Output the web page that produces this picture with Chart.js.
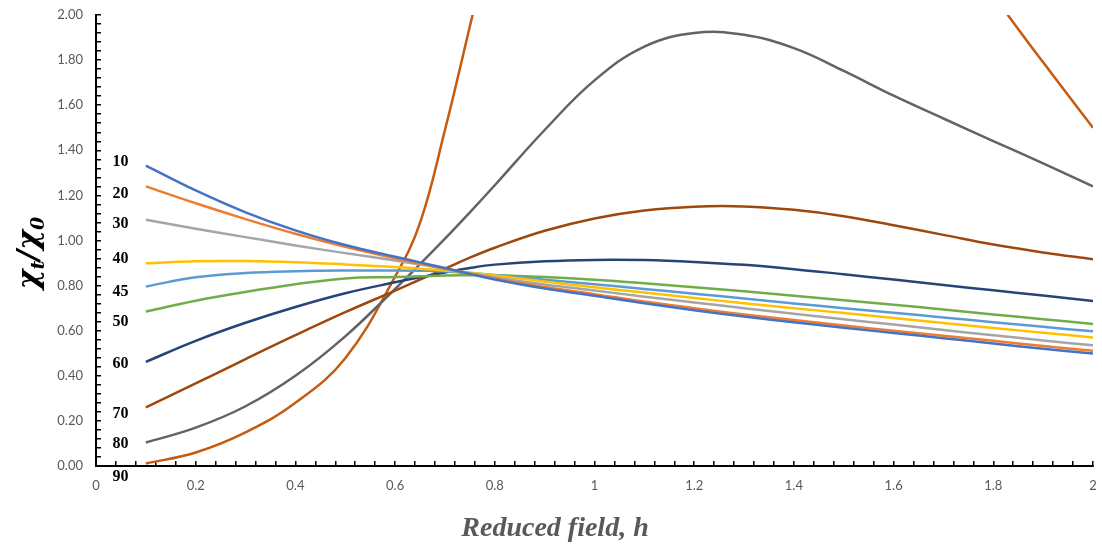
<!DOCTYPE html>
<html>
<head>
<meta charset="utf-8">
<script src="https://cdn.jsdelivr.net/npm/chart.js@4.4.1/dist/chart.umd.min.js"></script>
<style>
html,body{margin:0;padding:0;background:#ffffff;}
#wrap{width:1102px;height:544px;}
</style>
</head>
<body>
<div id="wrap"><canvas id="c" width="1102" height="544"></canvas></div>
<script>
// Reduced field h (x values shared by every series)
const fieldH = [0.1,0.2,0.3,0.4,0.5,0.6,0.65,0.7,0.75,0.8,0.9,1.0,1.1,1.2,1.3,1.4,1.5,1.6,1.7,1.8,1.9,2.0];

// Series labels (angle, degrees)
const angles = ['10','20','30','40','45','50','60','70','80','90'];

// chi_t / chi_0 for each angle
const chi10 = [1.332,1.222,1.125,1.045,0.980,0.928,0.903,0.878,0.852,0.827,0.787,0.755,0.722,0.691,0.663,0.637,0.613,0.590,0.567,0.543,0.520,0.499];
const chi20 = [1.240,1.165,1.095,1.030,0.972,0.921,0.898,0.876,0.853,0.831,0.794,0.762,0.729,0.700,0.672,0.647,0.623,0.600,0.578,0.555,0.532,0.511];
const chi30 = [1.092,1.052,1.015,0.978,0.944,0.911,0.894,0.874,0.855,0.836,0.805,0.778,0.751,0.725,0.700,0.675,0.651,0.627,0.603,0.580,0.557,0.535];
const chi40 = [0.899,0.908,0.909,0.904,0.894,0.882,0.875,0.867,0.857,0.845,0.818,0.793,0.769,0.745,0.722,0.700,0.678,0.656,0.634,0.612,0.591,0.570];
const chi45 = [0.796,0.837,0.856,0.864,0.867,0.867,0.866,0.863,0.856,0.847,0.826,0.806,0.785,0.764,0.743,0.721,0.700,0.680,0.659,0.638,0.617,0.597];
const chi50 = [0.685,0.733,0.772,0.806,0.832,0.838,0.841,0.845,0.846,0.846,0.838,0.826,0.810,0.793,0.775,0.755,0.735,0.715,0.694,0.672,0.651,0.630];
const chi60 = [0.462,0.555,0.635,0.705,0.766,0.815,0.837,0.858,0.878,0.893,0.908,0.914,0.913,0.905,0.892,0.873,0.850,0.827,0.803,0.779,0.756,0.732];
const chi70 = [0.260,0.366,0.474,0.580,0.682,0.778,0.827,0.875,0.924,0.968,1.043,1.098,1.133,1.150,1.151,1.136,1.108,1.068,1.025,0.982,0.947,0.917];
const chi80 = [0.104,0.170,0.265,0.400,0.575,0.785,0.895,1.008,1.125,1.245,1.490,1.710,1.860,1.920,1.912,1.853,1.752,1.642,1.541,1.441,1.342,1.240];
const chi90 = [0.011,0.060,0.149,0.280,0.478,0.840,1.078,1.490,1.950,2.420,3.400,4.100,4.500,4.600,4.400,4.000,3.300,2.800,2.420,2.090,1.790,1.500];

const seriesValues = [chi10,chi20,chi30,chi40,chi45,chi50,chi60,chi70,chi80,chi90];
const seriesColors = ['#4472C4','#ED7D31','#A5A5A5','#FFC000','#5B9BD5','#70AD47','#264478','#9E480E','#636363','#C55A11'];

// Where the angle labels sit, in axis units
const labelH = [0.049,0.049,0.049,0.049,0.049,0.049,0.049,0.049,0.049,0.049];
const labelChi = [1.347,1.209,1.073,0.920,0.772,0.638,0.455,0.231,0.096,-0.047];

const datasets = seriesValues.map((vals, i) => ({
  label: angles[i],
  data: fieldH.map((h, j) => ({x: h, y: vals[j]})),
  borderColor: seriesColors[i],
  backgroundColor: seriesColors[i],
  borderWidth: 2.5,
  pointRadius: 0,
  tension: 0.4,
  capBezierPoints: false,
  fill: false
}));

const annotationPlugin = {
  id: 'textExtras',
  afterDraw(chart) {
    const ctx = chart.ctx;
    const xs = chart.scales.x, ys = chart.scales.y;
    ctx.save();
    // angle labels
    ctx.fillStyle = '#000000';
    ctx.font = 'bold 16px "Liberation Serif"';
    ctx.textAlign = 'center';
    ctx.textBaseline = 'middle';
    angles.forEach((a, i) => {
      ctx.fillText(a, xs.getPixelForValue(labelH[i]), ys.getPixelForValue(labelChi[i]));
    });
    // x axis title
    ctx.fillStyle = '#595959';
    ctx.font = 'bold italic 28px "Liberation Serif"';
    ctx.textAlign = 'center';
    ctx.textBaseline = 'alphabetic';
    ctx.fillText('Reduced field, h', 555, 536);
    // y axis title  chi_t / chi_0
    const big = 'bold italic 30px "DejaVu Serif"';
    const small = 'bold italic 19px "DejaVu Serif"';
    const parts = [['χ', big, 0], ['t', small, 6], ['/', big, 0], ['χ', big, 0], ['0', small, 6]];
    let total = 0;
    parts.forEach(p => { ctx.font = p[1]; total += ctx.measureText(p[0]).width; });
    ctx.translate(30, 253);
    ctx.rotate(-Math.PI / 2);
    ctx.fillStyle = '#000000';
    ctx.textAlign = 'left';
    ctx.textBaseline = 'alphabetic';
    let x = -total / 2;
    parts.forEach(p => {
      ctx.font = p[1];
      ctx.fillText(p[0], x, 8 + p[2]);
      x += ctx.measureText(p[0]).width;
    });
    ctx.restore();
  }
};

new Chart(document.getElementById('c'), {
  type: 'line',
  data: { datasets },
  options: {
    responsive: false,
    animation: false,
    devicePixelRatio: 1,
    layout: { padding: { top: 15, right: 9, left: 0, bottom: 0 } },
    plugins: { legend: { display: false }, tooltip: { enabled: false } },
    scales: {
      x: {
        type: 'linear', min: 0, max: 2,
        afterFit: s => { s.height = 78; s.paddingLeft = 0; s.paddingRight = 0; s.paddingTop = 0; s.paddingBottom = 0; },
        ticks: {
          stepSize: 0.04, maxTicksLimit: 100, autoSkip: false, maxRotation: 0, minRotation: 0,
          padding: 17, color: '#595959', font: { family: 'Lato', size: 13 },
          callback: v => (Math.abs(v * 5 - Math.round(v * 5)) < 1e-6) ? String(+v.toFixed(1)) : ''
        },
        grid: { drawOnChartArea: false, drawTicks: true, tickLength: -5, color: '#000000', lineWidth: 1.5 },
        border: { display: true, color: '#000000', width: 2 }
      },
      y: {
        type: 'linear', min: 0, max: 2,
        afterFit: s => { s.width = 96; s.paddingLeft = 0; s.paddingRight = 0; s.paddingTop = 0; s.paddingBottom = 0; },
        ticks: {
          stepSize: 0.04, maxTicksLimit: 100, autoSkip: false,
          padding: 18, color: '#595959', font: { family: 'Lato', size: 13 },
          callback: v => (Math.abs(v * 5 - Math.round(v * 5)) < 1e-6) ? v.toFixed(2) : ''
        },
        grid: { drawOnChartArea: false, drawTicks: true, tickLength: -5, color: '#000000', lineWidth: 1.5 },
        border: { display: true, color: '#000000', width: 2 }
      }
    }
  },
  plugins: [annotationPlugin]
});
</script>
</body>
</html>
